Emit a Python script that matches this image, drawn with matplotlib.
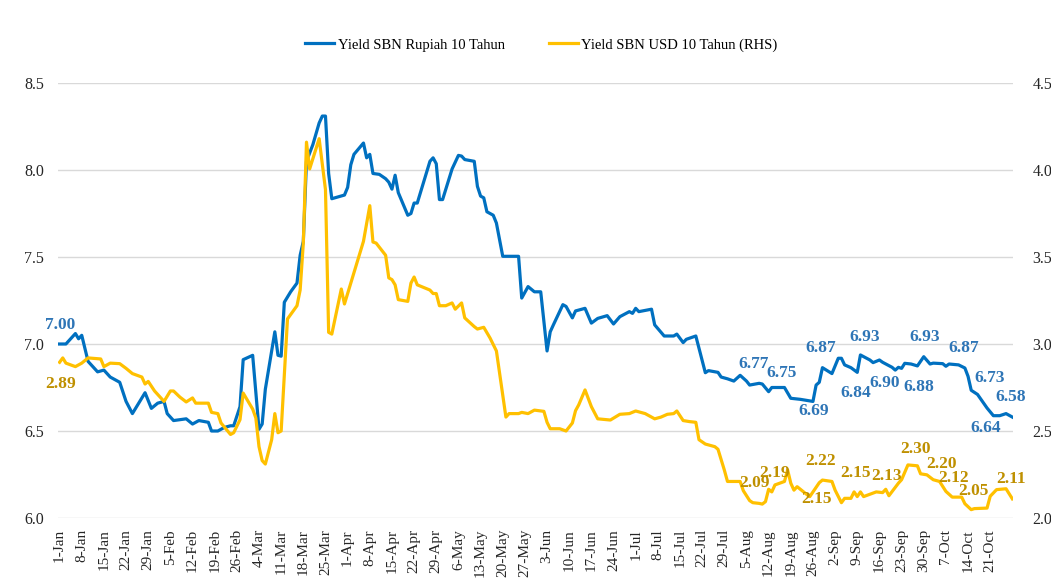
import matplotlib
matplotlib.use("Agg")
import matplotlib.pyplot as plt
import matplotlib.dates as mdates
from matplotlib.ticker import FixedLocator, FuncFormatter
import pandas as pd
import numpy as np

START = pd.Timestamp("2020-01-01")

# ---- data: day offset from 1-Jan-2020, yield (%) ----
idr_day = [0, 2, 5, 6, 7, 9, 12, 14, 16, 19, 21, 23, 27, 29, 31, 33, 34, 36, 40, 42,
           44, 47, 48, 50, 52, 54, 55, 57, 58, 61, 63, 64, 65, 68, 69, 70, 71, 73, 75, 76,
           77, 78, 80, 82, 83, 84, 85, 86, 90, 91, 92, 93, 96, 97, 98, 99, 101, 103, 104, 105,
           106, 107, 110, 111, 112, 113, 117, 118, 119, 120, 121, 124, 126, 127, 128, 131, 132, 133, 134, 135,
           137, 138, 140, 145, 146, 148, 150, 152, 154, 155, 156, 159, 160, 162, 163, 166, 168, 170, 173, 175,
           177, 180, 181, 182, 183, 187, 188, 191, 194, 195, 197, 198, 201, 204, 205, 208, 209, 211, 213, 215,
           217, 218, 221, 222, 224, 225, 229, 231, 234, 238, 239, 240, 241, 244, 246, 247, 248, 250, 252, 253,
           256, 257, 259, 260, 263, 264, 265, 266, 267, 269, 271, 272, 273, 275, 276, 279, 280, 281, 284, 286,
           287, 288, 290, 293, 295, 297, 299, 301]
idr_yield = [7.00, 7.00, 7.06, 7.03, 7.05, 6.90, 6.84, 6.85, 6.81, 6.78, 6.67, 6.60, 6.72, 6.63, 6.66, 6.67, 6.60, 6.56, 6.57, 6.54,
             6.56, 6.55, 6.50, 6.50, 6.52, 6.53, 6.53, 6.64, 6.91, 6.935, 6.51, 6.54, 6.74, 7.07, 6.935, 6.93, 7.24, 7.30, 7.35, 7.51,
             7.59, 8.05, 8.145, 8.27, 8.31, 8.31, 7.98, 7.835, 7.856, 7.90, 8.03, 8.09, 8.155, 8.07, 8.09, 7.98, 7.975, 7.95, 7.93, 7.89,
             7.97, 7.87, 7.74, 7.75, 7.81, 7.81, 8.05, 8.07, 8.036, 7.83, 7.83, 8.006, 8.084, 8.08, 8.06, 8.05, 7.906, 7.85, 7.84, 7.76,
             7.74, 7.695, 7.504, 7.504, 7.264, 7.33, 7.30, 7.30, 6.96, 7.07, 7.11, 7.226, 7.216, 7.15, 7.19, 7.205, 7.12, 7.147, 7.163, 7.115,
             7.157, 7.186, 7.176, 7.205, 7.186, 7.20, 7.11, 7.046, 7.046, 7.057, 7.008, 7.027, 7.046, 6.835, 6.847, 6.837, 6.81, 6.80, 6.787, 6.82,
             6.787, 6.764, 6.774, 6.77, 6.726, 6.75, 6.75, 6.688, 6.682, 6.67, 6.764, 6.78, 6.864, 6.83, 6.918, 6.918, 6.88, 6.864, 6.837, 6.937,
             6.908, 6.893, 6.908, 6.895, 6.866, 6.85, 6.866, 6.86, 6.889, 6.885, 6.874, 6.90, 6.927, 6.885, 6.89, 6.887, 6.872, 6.885, 6.88, 6.862,
             6.814, 6.734, 6.71, 6.632, 6.588, 6.588, 6.60, 6.58]

usd_day = [0, 1, 2, 5, 7, 9, 13, 14, 16, 19, 21, 23, 26, 27, 28, 30, 33, 35, 36, 38,
           40, 42, 43, 47, 48, 50, 51, 54, 55, 57, 58, 61, 62, 63, 64, 65, 67, 68, 69, 70,
           72, 75, 76, 77, 78, 79, 82, 84, 85, 86, 89, 90, 96, 98, 99, 100, 103, 104, 105, 106,
           107, 110, 111, 112, 113, 117, 118, 119, 120, 122, 124, 125, 127, 128, 131, 132, 134, 136, 138, 141,
           142, 145, 146, 148, 150, 153, 154, 155, 158, 160, 162, 163, 164, 166, 168, 170, 174, 177, 180, 182,
           185, 188, 190, 192, 194, 195, 197, 199, 201, 202, 204, 207, 208, 210, 211, 215, 216, 218, 219, 221,
           222, 223, 224, 225, 226, 229, 230, 231, 232, 233, 236, 237, 239, 240, 241, 244, 245, 247, 248, 250,
           251, 252, 253, 254, 258, 260, 261, 262, 265, 266, 268, 271, 272, 274, 276, 278, 280, 282, 285, 286,
           288, 289, 293, 294, 296, 299, 301]
usd_yield = [2.895, 2.92, 2.89, 2.87, 2.89, 2.92, 2.914, 2.87, 2.89, 2.887, 2.86, 2.83, 2.81, 2.77, 2.785, 2.73, 2.67, 2.73, 2.73, 2.695,
             2.667, 2.69, 2.66, 2.66, 2.607, 2.60, 2.546, 2.48, 2.49, 2.565, 2.718, 2.626, 2.575, 2.41, 2.33, 2.31, 2.45, 2.60, 2.49, 2.50,
             3.144, 3.22, 3.31, 3.58, 4.16, 4.006, 4.18, 3.887, 3.067, 3.057, 3.316, 3.23, 3.59, 3.795, 3.586, 3.58, 3.51, 3.38, 3.37, 3.34,
             3.255, 3.245, 3.35, 3.385, 3.34, 3.31, 3.29, 3.29, 3.22, 3.22, 3.236, 3.20, 3.236, 3.15, 3.10, 3.086, 3.096, 3.034, 2.96, 2.58,
             2.60, 2.60, 2.607, 2.60, 2.62, 2.613, 2.55, 2.513, 2.513, 2.50, 2.546, 2.617, 2.65, 2.736, 2.64, 2.57, 2.563, 2.596, 2.60, 2.615,
             2.60, 2.57, 2.58, 2.596, 2.60, 2.615, 2.56, 2.554, 2.55, 2.45, 2.425, 2.41, 2.395, 2.276, 2.21, 2.21, 2.157, 2.10, 2.088, 2.084,
             2.08, 2.094, 2.165, 2.15, 2.19, 2.21, 2.276, 2.20, 2.16, 2.18, 2.136, 2.123, 2.176, 2.203, 2.218, 2.21, 2.16, 2.088, 2.113, 2.113,
             2.15, 2.123, 2.15, 2.123, 2.15, 2.146, 2.165, 2.128, 2.20, 2.22, 2.305, 2.30, 2.254, 2.248, 2.22, 2.21, 2.153, 2.12, 2.12, 2.082,
             2.048, 2.054, 2.057, 2.125, 2.163, 2.168, 2.11]

# value labels (text, day offset of label, label height)
idr_lbl_text = ["7.00", "6.77", "6.75", "6.87", "6.69", "6.93", "6.84", "6.90", "6.93", "6.88", "6.87", "6.73", "6.58", "6.64"]
idr_lbl_day = [0.2, 219.2, 228.0, 240.4, 238.2, 254.5, 251.4, 260.6, 273.4, 271.4, 285.5, 293.7, 300.6, 292.7]
idr_lbl_y = [7.109, 6.883, 6.835, 6.975, 6.617, 7.042, 6.717, 6.774, 7.039, 6.755, 6.975, 6.803, 6.694, 6.516]

usd_lbl_text = ["2.89", "2.09", "2.19", "2.22", "2.15", "2.15", "2.13", "2.30", "2.20", "2.12", "2.05", "2.11"]
usd_lbl_day = [0.2, 219.5, 225.8, 240.4, 239.0, 251.4, 261.3, 270.3, 278.5, 282.4, 288.7, 300.6]
usd_lbl_y = [2.770, 2.203, 2.260, 2.329, 2.109, 2.257, 2.243, 2.395, 2.310, 2.232, 2.157, 2.224]

left_ticks = [6.0, 6.5, 7.0, 7.5, 8.0, 8.5]
right_ticks = [2.0, 2.5, 3.0, 3.5, 4.0, 4.5]

# ---- styling ----
BLUE = "#0070C0"
GOLD = "#FFC000"
BLUE_LBL = "#2E75B6"
GOLD_LBL = "#BF9000"
FONT = ["Liberation Serif", "DejaVu Serif"]
plt.rcParams["font.family"] = FONT

def to_dates(days):
    return [START + pd.Timedelta(days=float(d)) for d in days]

fig = plt.figure(figsize=(10.51, 5.83), dpi=100)
ax = fig.add_axes([58 / 1051, 65 / 583, (1013 - 58) / 1051, 435 / 583])
ax2 = ax.twinx()

l1, = ax.plot(to_dates(idr_day), idr_yield, color=BLUE, lw=2.3, solid_joinstyle="round",
              label="Yield SBN Rupiah 10 Tahun")
l2, = ax2.plot(to_dates(usd_day), usd_yield, color=GOLD, lw=2.3, solid_joinstyle="round",
               label="Yield SBN USD 10 Tahun (RHS)")

ax.set_ylim(6.0, 8.5)
ax2.set_ylim(2.0, 4.5)
ax.set_xlim(START - pd.Timedelta(days=0.5), START + pd.Timedelta(days=301.2))

ax.yaxis.set_major_locator(FixedLocator(left_ticks))
ax2.yaxis.set_major_locator(FixedLocator(right_ticks))
fmt = FuncFormatter(lambda v, p: f"{v:.1f}")
ax.yaxis.set_major_formatter(fmt)
ax2.yaxis.set_major_formatter(fmt)

tick_dates = pd.date_range("2020-01-01", "2020-10-21", freq="7D")
ax.set_xticks(mdates.date2num(tick_dates))
ax.set_xticklabels([f"{d.day}-{d.strftime('%b')}" for d in tick_dates], rotation=90)

ax.grid(axis="y", color="#D9D9D9", lw=1.0)
ax.set_axisbelow(True)
for a in (ax, ax2):
    for s in a.spines.values():
        s.set_visible(False)
ax.tick_params(axis="y", length=0, pad=10, labelsize=11.5, labelcolor="#262626")
ax2.tick_params(axis="y", length=0, pad=14, labelsize=11.5, labelcolor="#262626")
ax.tick_params(axis="x", length=0, pad=8, labelsize=11, labelcolor="#262626")

for t, d, y in zip(idr_lbl_text, idr_lbl_day, idr_lbl_y):
    ax.text(START + pd.Timedelta(days=d), y, t, color=BLUE_LBL, fontsize=12.5, fontweight="bold",
            ha="center", va="center", clip_on=False)
for t, d, y in zip(usd_lbl_text, usd_lbl_day, usd_lbl_y):
    ax2.text(START + pd.Timedelta(days=d), y, t, color=GOLD_LBL, fontsize=12.5, fontweight="bold",
             ha="center", va="center", clip_on=False)

fig.legend(handles=[l1, l2], loc="center", bbox_to_anchor=(0.515, 1 - 45 / 583), ncol=2,
           frameon=False, fontsize=10.5, handlelength=2.0, handletextpad=0.25, columnspacing=3.0)

fig.savefig("out.png", dpi=100, facecolor="white")
